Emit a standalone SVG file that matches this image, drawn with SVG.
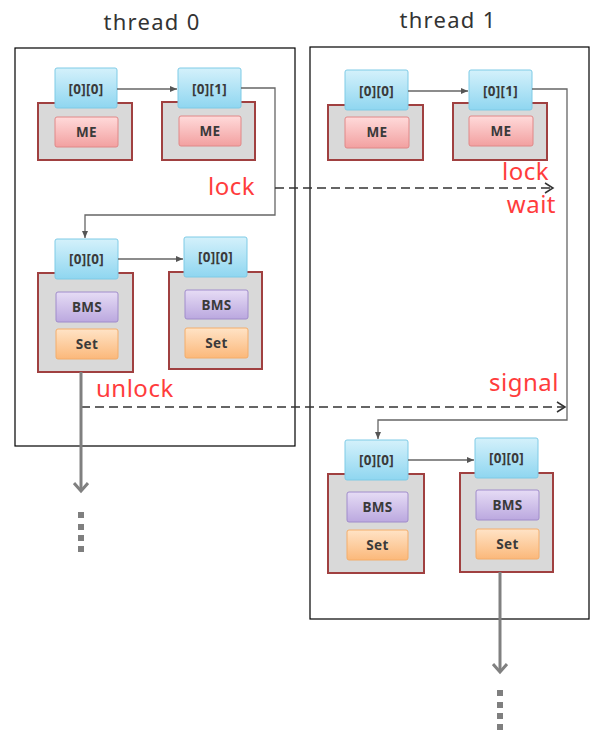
<svg xmlns="http://www.w3.org/2000/svg" width="591" height="733" viewBox="0 0 591 733">
<style>
.title{font-family:"Noto Sans","DejaVu Sans",sans-serif;font-size:22px;letter-spacing:1.3px;fill:#333;text-anchor:middle}
.red{font-family:"Noto Sans","DejaVu Sans",sans-serif;font-size:24px;letter-spacing:0.5px;fill:#ff3c3c}
.lbl{font-family:"Noto Sans","DejaVu Sans",sans-serif;font-size:13.5px;font-weight:bold;letter-spacing:0.3px;fill:#3a3a3a;text-anchor:middle}
.thread{fill:none;stroke:#000;stroke-width:1.2}
.outer{fill:#d9d9d9;stroke:#a04040;stroke-width:2}
.blue{fill:url(#gBlue);stroke:#7fcbe6;stroke-width:1}
.me{fill:url(#gMe);stroke:#e08888;stroke-width:1}
.bms{fill:url(#gBms);stroke:#a08ccb;stroke-width:1}
.set{fill:url(#gSet);stroke:#f4ad6a;stroke-width:1}
.thin{fill:none;stroke:#666;stroke-width:1.3}
.thick{fill:none;stroke:#808080;stroke-width:3}
.dash{fill:none;stroke:#333;stroke-width:1.3;stroke-dasharray:9 5}
.dots{fill:#7f7f7f}
</style>
<defs>
<linearGradient id="gBlue" x1="0" y1="0" x2="0" y2="1"><stop offset="0" stop-color="#d4f1fb"/><stop offset="1" stop-color="#8fd6f0"/></linearGradient>
<linearGradient id="gMe" x1="0" y1="0" x2="0" y2="1"><stop offset="0" stop-color="#ffdada"/><stop offset="1" stop-color="#f2a0a0"/></linearGradient>
<linearGradient id="gBms" x1="0" y1="0" x2="0" y2="1"><stop offset="0" stop-color="#e6dcf5"/><stop offset="1" stop-color="#bba8df"/></linearGradient>
<linearGradient id="gSet" x1="0" y1="0" x2="0" y2="1"><stop offset="0" stop-color="#ffe3c6"/><stop offset="1" stop-color="#fbb87a"/></linearGradient>
<marker id="aSmall" markerWidth="8" markerHeight="8" refX="7" refY="4" orient="auto" markerUnits="userSpaceOnUse"><path d="M0,1 L7,4 L0,7 Z" fill="#555"/></marker>
<marker id="aOpen" markerWidth="12" markerHeight="12" refX="10" refY="6" orient="auto" markerUnits="userSpaceOnUse"><path d="M2,1 L10,6 L2,11" fill="none" stroke="#333" stroke-width="1.5"/></marker>
<marker id="aBig" markerWidth="20" markerHeight="16" refX="9" refY="8" orient="auto" markerUnits="userSpaceOnUse"><path d="M1,1 L9,8 L1,15" fill="none" stroke="#808080" stroke-width="3"/></marker>
</defs>
<rect width="591" height="733" fill="#fff"/>

<g id="thread0">
<rect class="thread" x="15" y="48" width="280" height="398"/>
<text class="title" x="152" y="30">thread 0</text>
</g>
<g id="thread1">
<rect class="thread" x="310" y="47" width="279" height="572"/>
<text class="title" x="448" y="28">thread 1</text>
</g>

<g id="t0a">
<rect class="outer" x="38" y="103" width="94" height="57"/>
<rect class="me" x="55" y="117" width="63" height="30" rx="2"/>
<text class="lbl" x="86.5" y="137">ME</text>
<rect class="blue" x="55" y="68" width="62" height="40" rx="2"/>
<text class="lbl" x="86" y="94">[0][0]</text>
</g>
<g id="t0b">
<rect class="outer" x="162" y="102" width="93" height="58"/>
<rect class="me" x="179" y="116" width="62" height="30" rx="2"/>
<text class="lbl" x="210" y="136">ME</text>
<rect class="blue" x="178" y="68" width="63" height="40" rx="2"/>
<text class="lbl" x="209.5" y="94">[0][1]</text>
</g>
<g id="t0c">
<rect class="outer" x="38" y="273" width="95" height="99"/>
<rect class="bms" x="56" y="292" width="62" height="30" rx="2"/>
<text class="lbl" x="87" y="312">BMS</text>
<rect class="set" x="56" y="329" width="62" height="30" rx="2"/>
<text class="lbl" x="87" y="349">Set</text>
<rect class="blue" x="55" y="239" width="63" height="40" rx="2"/>
<text class="lbl" x="86.5" y="264">[0][0]</text>
</g>
<g id="t0d">
<rect class="outer" x="169" y="272" width="93" height="97"/>
<rect class="bms" x="185" y="290" width="63" height="29" rx="2"/>
<text class="lbl" x="216.5" y="310">BMS</text>
<rect class="set" x="185" y="328" width="63" height="30" rx="2"/>
<text class="lbl" x="216.5" y="348">Set</text>
<rect class="blue" x="184" y="237" width="63" height="40" rx="2"/>
<text class="lbl" x="215.5" y="262">[0][0]</text>
</g>

<g id="t1a">
<rect class="outer" x="328" y="105" width="95" height="55"/>
<rect class="me" x="345" y="117" width="64" height="31" rx="2"/>
<text class="lbl" x="377" y="137">ME</text>
<rect class="blue" x="345" y="70" width="63" height="40" rx="2"/>
<text class="lbl" x="376.5" y="96">[0][0]</text>
</g>
<g id="t1b">
<rect class="outer" x="453" y="103" width="94" height="57"/>
<rect class="me" x="469" y="116" width="64" height="30" rx="2"/>
<text class="lbl" x="501" y="136">ME</text>
<rect class="blue" x="469" y="70" width="63" height="40" rx="2"/>
<text class="lbl" x="500.5" y="96">[0][1]</text>
</g>
<g id="t1c">
<rect class="outer" x="328" y="474" width="96" height="99"/>
<rect class="bms" x="347" y="492" width="61" height="30" rx="2"/>
<text class="lbl" x="377.5" y="512">BMS</text>
<rect class="set" x="347" y="530" width="61" height="30" rx="2"/>
<text class="lbl" x="377.5" y="550">Set</text>
<rect class="blue" x="345" y="440" width="63" height="40" rx="2"/>
<text class="lbl" x="376.5" y="465">[0][0]</text>
</g>
<g id="t1d">
<rect class="outer" x="460" y="473" width="93" height="99"/>
<rect class="bms" x="476" y="490" width="63" height="30" rx="2"/>
<text class="lbl" x="507.5" y="510">BMS</text>
<rect class="set" x="476" y="529" width="63" height="30" rx="2"/>
<text class="lbl" x="507.5" y="549">Set</text>
<rect class="blue" x="475" y="438" width="63" height="40" rx="2"/>
<text class="lbl" x="506.5" y="463">[0][0]</text>
</g>

<g id="connectors">
<path class="thin" d="M117,89 H177" marker-end="url(#aSmall)"/>
<path class="thin" d="M241,88 H275 V215 H85 V238" marker-end="url(#aSmall)"/>
<path class="thin" d="M118,259 H183" marker-end="url(#aSmall)"/>
<path class="thin" d="M408,91 H468" marker-end="url(#aSmall)"/>
<path class="thin" d="M532,89 H567 V420 H378 V439" marker-end="url(#aSmall)"/>
<path class="thin" d="M408,460 H474" marker-end="url(#aSmall)"/>
<path class="dash" d="M275,188 H553" marker-end="url(#aOpen)"/>
<path class="dash" d="M81,407 H565" marker-end="url(#aOpen)"/>
<path class="thick" d="M81,372 V491" marker-end="url(#aBig)"/>
<path class="thick" d="M500,572 V672" marker-end="url(#aBig)"/>
<rect class="dots" x="78" y="512" width="6" height="6"/>
<rect class="dots" x="78" y="524" width="6" height="6"/>
<rect class="dots" x="78" y="535" width="6" height="6"/>
<rect class="dots" x="78" y="546" width="6" height="6"/>
<rect class="dots" x="497" y="690" width="6" height="6"/>
<rect class="dots" x="497" y="702" width="6" height="6"/>
<rect class="dots" x="497" y="713" width="6" height="6"/>
<rect class="dots" x="497" y="724" width="6" height="6"/>
</g>

<g id="labels">
<text class="red" x="208" y="195">lock</text>
<text class="red" x="549" y="180" text-anchor="end">lock</text>
<text class="red" x="556" y="213" text-anchor="end">wait</text>
<text class="red" x="96" y="397">unlock</text>
<text class="red" x="559" y="391" text-anchor="end">signal</text>
</g>
</svg>
